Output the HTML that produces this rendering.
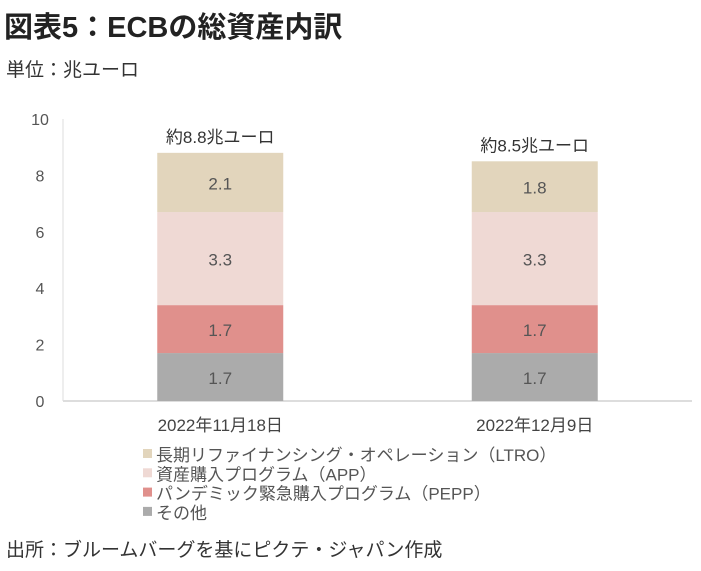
<!DOCTYPE html>
<html><head><meta charset="utf-8"><style>
body{margin:0;width:701px;height:571px;background:#fff;overflow:hidden;font-family:"Liberation Sans","Noto Sans CJK JP",sans-serif;}
svg{position:absolute;left:0;top:0}
</style></head><body>
<svg width="701" height="571">
<text x="4" y="37" font-size="29" fill="#222" font-weight="bold">図表5：ECBの総資産内訳</text>
<text x="6" y="76" font-size="19" fill="#333">単位：兆ユーロ</text>
<g id="axes"></g><g id="bars"></g><g id="legend"></g>
<text x="6" y="556" font-size="19" fill="#333">出所：ブルームバーグを基にピクテ・ジャパン作成</text>
</svg>
<script>
const categories=["2022年11月18日","2022年12月9日"];
const totalLabels=["約8.8兆ユーロ","約8.5兆ユーロ"];
const seriesNames=["その他","パンデミック緊急購入プログラム（PEPP）","資産購入プログラム（APP）","長期リファイナンシング・オペレーション（LTRO）"];
const otherVals=[1.7,1.7];
const peppVals=[1.7,1.7];
const appVals=[3.3,3.3];
const ltroVals=[2.1,1.8];
const yTicks=[0,2,4,6,8,10];
const colors=["#ababab","#e0908c","#efd9d4","#e2d5bc"];
const series=[otherVals,peppVals,appVals,ltroVals];
const NS="http://www.w3.org/2000/svg";
const x0=63,x1=692,yb=401,yt=119;
const y=v=>yb-(yb-yt)*v/10;
const bandW=(x1-x0)/categories.length;
const bx=i=>x0+bandW*(i+0.5);
const bw=126;
function mk(t,a,p){const e=document.createElementNS(NS,t);for(const k in a)e.setAttribute(k,a[k]);p.appendChild(e);return e;}
const ax=document.getElementById('axes');
yTicks.forEach(t=>{const e=mk('text',{x:40,y:y(t)+6,'font-size':16,fill:'#555','text-anchor':'middle'},ax);e.textContent=t;

});
const base=mk('line',{x1:x0,x2:x1,y1:yb,y2:yb,stroke:'#bbb','stroke-width':1},ax);


const yl=mk('line',{x1:x0,x2:x0,y1:yt,y2:yb,stroke:'#ddd','stroke-width':1},ax);


const bg=document.getElementById('bars');
categories.forEach((c,i)=>{let cum=0;
 series.forEach((s,j)=>{const v=s[i];const r=mk('rect',{x:bx(i)-bw/2,y:y(cum+v),width:bw,height:y(cum)-y(cum+v),fill:colors[j]},bg);
 
 
 const t=mk('text',{x:bx(i),y:(y(cum)+y(cum+v))/2+7,'font-size':17,fill:'#555','text-anchor':'middle'},bg);t.textContent=v.toFixed(1);
 
 
 cum+=v;});
 const tl=mk('text',{x:bx(i),y:y(cum)-10,'font-size':17,fill:'#333','text-anchor':'middle'},bg);tl.textContent=totalLabels[i];
 
 
 const xl=mk('text',{x:bx(i),y:431,'font-size':17,fill:'#444','text-anchor':'middle'},bg);xl.textContent=c;
 
 
});
const lg=document.getElementById('legend');
[3,2,1,0].forEach((j,k)=>{const yy=455+k*19.3;
 const m=mk('rect',{x:143,y:yy-6,width:9,height:9,fill:colors[j]},lg);
 
 
 const t=mk('text',{x:156,y:yy+6,'font-size':17,fill:'#555'},lg);t.textContent=seriesNames[j];
 
 });
</script>
</body></html>
